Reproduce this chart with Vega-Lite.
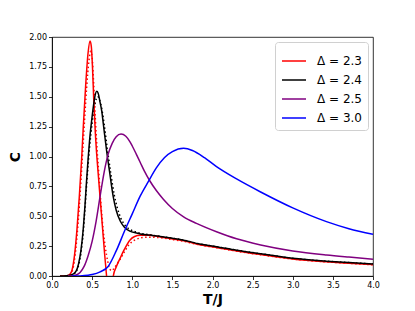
{
  "$schema": "https://vega.github.io/schema/vega-lite/v6.json",
  "autosize": {"type": "none"},
  "width": 321,
  "height": 239,
  "padding": {"left": 52, "top": 37, "right": 42, "bottom": 35},
  "background": "white",
  "config": {
    "view": {"stroke": "black", "strokeWidth": 0.8},
    "font": "DejaVu Sans",
    "axis": {"grid": false, "domainColor": "black", "domainWidth": 0.8, "tickColor": "black", "tickWidth": 0.8, "tickSize": 3.5, "labelFont": "DejaVu Sans", "labelFontSize": 8, "labelColor": "black", "labelPadding": 2, "labelOverlap": false, "titleFont": "DejaVu Sans", "titleFontSize": 14, "titleFontWeight": "bold", "titleColor": "black", "labelFlush": false}
  },
  "data": {"values": [
    {"T":0.1,"C":0,"d":"Δ = 2.3","s":"solid"},{"T":0.18,"C":0.002,"d":"Δ = 2.3","s":"solid"},{"T":0.22,"C":0.012,"d":"Δ = 2.3","s":"solid"},{"T":0.25,"C":0.05,"d":"Δ = 2.3","s":"solid"},{"T":0.28,"C":0.17,"d":"Δ = 2.3","s":"solid"},{"T":0.31,"C":0.38,"d":"Δ = 2.3","s":"solid"},{"T":0.34,"C":0.66,"d":"Δ = 2.3","s":"solid"},{"T":0.37,"C":0.99,"d":"Δ = 2.3","s":"solid"},{"T":0.39,"C":1.25,"d":"Δ = 2.3","s":"solid"},{"T":0.42,"C":1.6,"d":"Δ = 2.3","s":"solid"},{"T":0.45,"C":1.87,"d":"Δ = 2.3","s":"solid"},{"T":0.474,"C":1.966,"d":"Δ = 2.3","s":"solid"},{"T":0.49,"C":1.92,"d":"Δ = 2.3","s":"solid"},{"T":0.505,"C":1.74,"d":"Δ = 2.3","s":"solid"},{"T":0.52,"C":1.48,"d":"Δ = 2.3","s":"solid"},{"T":0.54,"C":1.2,"d":"Δ = 2.3","s":"solid"},{"T":0.56,"C":0.99,"d":"Δ = 2.3","s":"solid"},{"T":0.58,"C":0.82,"d":"Δ = 2.3","s":"solid"},{"T":0.6,"C":0.65,"d":"Δ = 2.3","s":"solid"},{"T":0.63,"C":0.4,"d":"Δ = 2.3","s":"solid"},{"T":0.655,"C":0.19,"d":"Δ = 2.3","s":"solid"},{"T":0.68,"C":0.0,"d":"Δ = 2.3","s":"solid"},{"T":0.7,"C":-0.14,"d":"Δ = 2.3","s":"solid"},{"T":0.72,"C":-0.2,"d":"Δ = 2.3","s":"solid"},{"T":0.74,"C":-0.14,"d":"Δ = 2.3","s":"solid"},{"T":0.764,"C":0.0,"d":"Δ = 2.3","s":"solid"},{"T":0.8,"C":0.075,"d":"Δ = 2.3","s":"solid"},{"T":0.85,"C":0.15,"d":"Δ = 2.3","s":"solid"},{"T":0.9,"C":0.22,"d":"Δ = 2.3","s":"solid"},{"T":0.97,"C":0.3,"d":"Δ = 2.3","s":"solid"},{"T":1.03,"C":0.33,"d":"Δ = 2.3","s":"solid"},{"T":1.1,"C":0.34,"d":"Δ = 2.3","s":"solid"},{"T":1.2,"C":0.341,"d":"Δ = 2.3","s":"solid"},{"T":1.35,"C":0.327,"d":"Δ = 2.3","s":"solid"},{"T":1.5,"C":0.31,"d":"Δ = 2.3","s":"solid"},{"T":1.64,"C":0.295,"d":"Δ = 2.3","s":"solid"},{"T":1.84,"C":0.262,"d":"Δ = 2.3","s":"solid"},{"T":2.05,"C":0.239,"d":"Δ = 2.3","s":"solid"},{"T":2.3,"C":0.21,"d":"Δ = 2.3","s":"solid"},{"T":2.6,"C":0.18,"d":"Δ = 2.3","s":"solid"},{"T":3.0,"C":0.143,"d":"Δ = 2.3","s":"solid"},{"T":3.42,"C":0.119,"d":"Δ = 2.3","s":"solid"},{"T":3.7,"C":0.107,"d":"Δ = 2.3","s":"solid"},{"T":4.0,"C":0.095,"d":"Δ = 2.3","s":"solid"},

    {"T":0.1,"C":0,"d":"Δ = 2.4","s":"solid"},{"T":0.18,"C":0.002,"d":"Δ = 2.4","s":"solid"},{"T":0.22,"C":0.006,"d":"Δ = 2.4","s":"solid"},{"T":0.26,"C":0.015,"d":"Δ = 2.4","s":"solid"},{"T":0.3,"C":0.04,"d":"Δ = 2.4","s":"solid"},{"T":0.33,"C":0.1,"d":"Δ = 2.4","s":"solid"},{"T":0.36,"C":0.21,"d":"Δ = 2.4","s":"solid"},{"T":0.39,"C":0.4,"d":"Δ = 2.4","s":"solid"},{"T":0.41,"C":0.58,"d":"Δ = 2.4","s":"solid"},{"T":0.43,"C":0.79,"d":"Δ = 2.4","s":"solid"},{"T":0.45,"C":0.98,"d":"Δ = 2.4","s":"solid"},{"T":0.47,"C":1.15,"d":"Δ = 2.4","s":"solid"},{"T":0.494,"C":1.3,"d":"Δ = 2.4","s":"solid"},{"T":0.52,"C":1.44,"d":"Δ = 2.4","s":"solid"},{"T":0.54,"C":1.52,"d":"Δ = 2.4","s":"solid"},{"T":0.557,"C":1.545,"d":"Δ = 2.4","s":"solid"},{"T":0.575,"C":1.53,"d":"Δ = 2.4","s":"solid"},{"T":0.6,"C":1.45,"d":"Δ = 2.4","s":"solid"},{"T":0.62,"C":1.38,"d":"Δ = 2.4","s":"solid"},{"T":0.64,"C":1.27,"d":"Δ = 2.4","s":"solid"},{"T":0.68,"C":1.05,"d":"Δ = 2.4","s":"solid"},{"T":0.72,"C":0.86,"d":"Δ = 2.4","s":"solid"},{"T":0.764,"C":0.66,"d":"Δ = 2.4","s":"solid"},{"T":0.8,"C":0.55,"d":"Δ = 2.4","s":"solid"},{"T":0.85,"C":0.46,"d":"Δ = 2.4","s":"solid"},{"T":0.9,"C":0.41,"d":"Δ = 2.4","s":"solid"},{"T":0.97,"C":0.375,"d":"Δ = 2.4","s":"solid"},{"T":1.05,"C":0.36,"d":"Δ = 2.4","s":"solid"},{"T":1.1,"C":0.352,"d":"Δ = 2.4","s":"solid"},{"T":1.22,"C":0.343,"d":"Δ = 2.4","s":"solid"},{"T":1.35,"C":0.33,"d":"Δ = 2.4","s":"solid"},{"T":1.5,"C":0.315,"d":"Δ = 2.4","s":"solid"},{"T":1.64,"C":0.3,"d":"Δ = 2.4","s":"solid"},{"T":1.84,"C":0.268,"d":"Δ = 2.4","s":"solid"},{"T":2.05,"C":0.245,"d":"Δ = 2.4","s":"solid"},{"T":2.3,"C":0.216,"d":"Δ = 2.4","s":"solid"},{"T":2.6,"C":0.186,"d":"Δ = 2.4","s":"solid"},{"T":3.0,"C":0.148,"d":"Δ = 2.4","s":"solid"},{"T":3.42,"C":0.124,"d":"Δ = 2.4","s":"solid"},{"T":3.7,"C":0.112,"d":"Δ = 2.4","s":"solid"},{"T":4.0,"C":0.1,"d":"Δ = 2.4","s":"solid"},

    {"T":0.2,"C":0,"d":"Δ = 2.5","s":"solid"},{"T":0.26,"C":0.002,"d":"Δ = 2.5","s":"solid"},{"T":0.3,"C":0.008,"d":"Δ = 2.5","s":"solid"},{"T":0.35,"C":0.03,"d":"Δ = 2.5","s":"solid"},{"T":0.4,"C":0.08,"d":"Δ = 2.5","s":"solid"},{"T":0.45,"C":0.17,"d":"Δ = 2.5","s":"solid"},{"T":0.5,"C":0.29,"d":"Δ = 2.5","s":"solid"},{"T":0.55,"C":0.46,"d":"Δ = 2.5","s":"solid"},{"T":0.6,"C":0.67,"d":"Δ = 2.5","s":"solid"},{"T":0.65,"C":0.87,"d":"Δ = 2.5","s":"solid"},{"T":0.7,"C":1.02,"d":"Δ = 2.5","s":"solid"},{"T":0.75,"C":1.11,"d":"Δ = 2.5","s":"solid"},{"T":0.8,"C":1.165,"d":"Δ = 2.5","s":"solid"},{"T":0.86,"C":1.188,"d":"Δ = 2.5","s":"solid"},{"T":0.92,"C":1.17,"d":"Δ = 2.5","s":"solid"},{"T":0.97,"C":1.125,"d":"Δ = 2.5","s":"solid"},{"T":1.0,"C":1.088,"d":"Δ = 2.5","s":"solid"},{"T":1.05,"C":1.02,"d":"Δ = 2.5","s":"solid"},{"T":1.1,"C":0.95,"d":"Δ = 2.5","s":"solid"},{"T":1.15,"C":0.88,"d":"Δ = 2.5","s":"solid"},{"T":1.22,"C":0.795,"d":"Δ = 2.5","s":"solid"},{"T":1.3,"C":0.715,"d":"Δ = 2.5","s":"solid"},{"T":1.39,"C":0.64,"d":"Δ = 2.5","s":"solid"},{"T":1.5,"C":0.565,"d":"Δ = 2.5","s":"solid"},{"T":1.64,"C":0.495,"d":"Δ = 2.5","s":"solid"},{"T":1.8,"C":0.44,"d":"Δ = 2.5","s":"solid"},{"T":2.05,"C":0.37,"d":"Δ = 2.5","s":"solid"},{"T":2.3,"C":0.311,"d":"Δ = 2.5","s":"solid"},{"T":2.6,"C":0.26,"d":"Δ = 2.5","s":"solid"},{"T":3.0,"C":0.21,"d":"Δ = 2.5","s":"solid"},{"T":3.42,"C":0.176,"d":"Δ = 2.5","s":"solid"},{"T":3.7,"C":0.158,"d":"Δ = 2.5","s":"solid"},{"T":4.0,"C":0.14,"d":"Δ = 2.5","s":"solid"},

    {"T":0.25,"C":0,"d":"Δ = 3.0","s":"solid"},{"T":0.35,"C":0.001,"d":"Δ = 3.0","s":"solid"},{"T":0.45,"C":0.006,"d":"Δ = 3.0","s":"solid"},{"T":0.5,"C":0.012,"d":"Δ = 3.0","s":"solid"},{"T":0.6,"C":0.035,"d":"Δ = 3.0","s":"solid"},{"T":0.7,"C":0.08,"d":"Δ = 3.0","s":"solid"},{"T":0.8,"C":0.21,"d":"Δ = 3.0","s":"solid"},{"T":0.9,"C":0.37,"d":"Δ = 3.0","s":"solid"},{"T":1.0,"C":0.52,"d":"Δ = 3.0","s":"solid"},{"T":1.1,"C":0.67,"d":"Δ = 3.0","s":"solid"},{"T":1.2,"C":0.79,"d":"Δ = 3.0","s":"solid"},{"T":1.3,"C":0.905,"d":"Δ = 3.0","s":"solid"},{"T":1.4,"C":0.99,"d":"Δ = 3.0","s":"solid"},{"T":1.5,"C":1.04,"d":"Δ = 3.0","s":"solid"},{"T":1.64,"C":1.068,"d":"Δ = 3.0","s":"solid"},{"T":1.75,"C":1.05,"d":"Δ = 3.0","s":"solid"},{"T":1.9,"C":0.99,"d":"Δ = 3.0","s":"solid"},{"T":2.05,"C":0.915,"d":"Δ = 3.0","s":"solid"},{"T":2.3,"C":0.812,"d":"Δ = 3.0","s":"solid"},{"T":2.6,"C":0.703,"d":"Δ = 3.0","s":"solid"},{"T":3.0,"C":0.57,"d":"Δ = 3.0","s":"solid"},{"T":3.42,"C":0.455,"d":"Δ = 3.0","s":"solid"},{"T":3.7,"C":0.396,"d":"Δ = 3.0","s":"solid"},{"T":4.0,"C":0.349,"d":"Δ = 3.0","s":"solid"},

    {"T":0.18,"C":0.001,"d":"Δ = 2.3","s":"dotted"},{"T":0.22,"C":0.006,"d":"Δ = 2.3","s":"dotted"},{"T":0.25,"C":0.035,"d":"Δ = 2.3","s":"dotted"},{"T":0.28,"C":0.13,"d":"Δ = 2.3","s":"dotted"},{"T":0.31,"C":0.32,"d":"Δ = 2.3","s":"dotted"},{"T":0.34,"C":0.58,"d":"Δ = 2.3","s":"dotted"},{"T":0.37,"C":0.9,"d":"Δ = 2.3","s":"dotted"},{"T":0.4,"C":1.24,"d":"Δ = 2.3","s":"dotted"},{"T":0.43,"C":1.56,"d":"Δ = 2.3","s":"dotted"},{"T":0.46,"C":1.8,"d":"Δ = 2.3","s":"dotted"},{"T":0.482,"C":1.88,"d":"Δ = 2.3","s":"dotted"},{"T":0.5,"C":1.83,"d":"Δ = 2.3","s":"dotted"},{"T":0.52,"C":1.6,"d":"Δ = 2.3","s":"dotted"},{"T":0.54,"C":1.32,"d":"Δ = 2.3","s":"dotted"},{"T":0.56,"C":1.08,"d":"Δ = 2.3","s":"dotted"},{"T":0.585,"C":0.84,"d":"Δ = 2.3","s":"dotted"},{"T":0.61,"C":0.6,"d":"Δ = 2.3","s":"dotted"},{"T":0.64,"C":0.37,"d":"Δ = 2.3","s":"dotted"},{"T":0.68,"C":0.175,"d":"Δ = 2.3","s":"dotted"},{"T":0.71,"C":0.08,"d":"Δ = 2.3","s":"dotted"},{"T":0.74,"C":0.045,"d":"Δ = 2.3","s":"dotted"},{"T":0.77,"C":0.06,"d":"Δ = 2.3","s":"dotted"},{"T":0.81,"C":0.1,"d":"Δ = 2.3","s":"dotted"},{"T":0.85,"C":0.14,"d":"Δ = 2.3","s":"dotted"},{"T":0.9,"C":0.2,"d":"Δ = 2.3","s":"dotted"},{"T":0.97,"C":0.27,"d":"Δ = 2.3","s":"dotted"},{"T":1.03,"C":0.3,"d":"Δ = 2.3","s":"dotted"},{"T":1.1,"C":0.318,"d":"Δ = 2.3","s":"dotted"},{"T":1.2,"C":0.325,"d":"Δ = 2.3","s":"dotted"},{"T":1.35,"C":0.32,"d":"Δ = 2.3","s":"dotted"},{"T":1.5,"C":0.305,"d":"Δ = 2.3","s":"dotted"},{"T":1.64,"C":0.29,"d":"Δ = 2.3","s":"dotted"},{"T":1.84,"C":0.26,"d":"Δ = 2.3","s":"dotted"},{"T":2.05,"C":0.237,"d":"Δ = 2.3","s":"dotted"},{"T":2.3,"C":0.208,"d":"Δ = 2.3","s":"dotted"},{"T":2.6,"C":0.178,"d":"Δ = 2.3","s":"dotted"},{"T":3.0,"C":0.142,"d":"Δ = 2.3","s":"dotted"},{"T":3.42,"C":0.118,"d":"Δ = 2.3","s":"dotted"},{"T":3.7,"C":0.106,"d":"Δ = 2.3","s":"dotted"},{"T":4.0,"C":0.094,"d":"Δ = 2.3","s":"dotted"},

    {"T":0.18,"C":0.001,"d":"Δ = 2.4","s":"dotted"},{"T":0.22,"C":0.004,"d":"Δ = 2.4","s":"dotted"},{"T":0.26,"C":0.012,"d":"Δ = 2.4","s":"dotted"},{"T":0.3,"C":0.035,"d":"Δ = 2.4","s":"dotted"},{"T":0.33,"C":0.085,"d":"Δ = 2.4","s":"dotted"},{"T":0.36,"C":0.19,"d":"Δ = 2.4","s":"dotted"},{"T":0.39,"C":0.37,"d":"Δ = 2.4","s":"dotted"},{"T":0.41,"C":0.55,"d":"Δ = 2.4","s":"dotted"},{"T":0.43,"C":0.75,"d":"Δ = 2.4","s":"dotted"},{"T":0.45,"C":0.93,"d":"Δ = 2.4","s":"dotted"},{"T":0.47,"C":1.09,"d":"Δ = 2.4","s":"dotted"},{"T":0.5,"C":1.28,"d":"Δ = 2.4","s":"dotted"},{"T":0.53,"C":1.42,"d":"Δ = 2.4","s":"dotted"},{"T":0.55,"C":1.48,"d":"Δ = 2.4","s":"dotted"},{"T":0.57,"C":1.5,"d":"Δ = 2.4","s":"dotted"},{"T":0.59,"C":1.48,"d":"Δ = 2.4","s":"dotted"},{"T":0.62,"C":1.4,"d":"Δ = 2.4","s":"dotted"},{"T":0.65,"C":1.27,"d":"Δ = 2.4","s":"dotted"},{"T":0.69,"C":1.06,"d":"Δ = 2.4","s":"dotted"},{"T":0.73,"C":0.87,"d":"Δ = 2.4","s":"dotted"},{"T":0.775,"C":0.68,"d":"Δ = 2.4","s":"dotted"},{"T":0.81,"C":0.58,"d":"Δ = 2.4","s":"dotted"},{"T":0.86,"C":0.48,"d":"Δ = 2.4","s":"dotted"},{"T":0.91,"C":0.425,"d":"Δ = 2.4","s":"dotted"},{"T":0.97,"C":0.39,"d":"Δ = 2.4","s":"dotted"},{"T":1.05,"C":0.367,"d":"Δ = 2.4","s":"dotted"},{"T":1.1,"C":0.357,"d":"Δ = 2.4","s":"dotted"},{"T":1.22,"C":0.345,"d":"Δ = 2.4","s":"dotted"},{"T":1.35,"C":0.331,"d":"Δ = 2.4","s":"dotted"},{"T":1.5,"C":0.316,"d":"Δ = 2.4","s":"dotted"},{"T":1.64,"C":0.3,"d":"Δ = 2.4","s":"dotted"},{"T":1.84,"C":0.268,"d":"Δ = 2.4","s":"dotted"},{"T":2.05,"C":0.245,"d":"Δ = 2.4","s":"dotted"},{"T":2.3,"C":0.216,"d":"Δ = 2.4","s":"dotted"},{"T":2.6,"C":0.186,"d":"Δ = 2.4","s":"dotted"},{"T":3.0,"C":0.148,"d":"Δ = 2.4","s":"dotted"},{"T":3.42,"C":0.124,"d":"Δ = 2.4","s":"dotted"},{"T":3.7,"C":0.112,"d":"Δ = 2.4","s":"dotted"},{"T":4.0,"C":0.1,"d":"Δ = 2.4","s":"dotted"}
  ]},
  "layer": [
    {
      "transform": [{"filter": "datum.s === 'dotted'"}],
      "mark": {"type": "line", "interpolate": "monotone", "clip": true, "strokeWidth": 1.5, "strokeDash": [1.5, 2.5]},
      "encoding": {
        "x": {"field": "T", "type": "quantitative", "axis": {"values": [0, 0.5, 1, 1.5, 2, 2.5, 3, 3.5, 4], "format": ".1f", "title": "T/J", "titlePadding": 3, "labelOverlap": false}},
        "y": {"field": "C", "type": "quantitative", "axis": {"values": [0, 0.25, 0.5, 0.75, 1, 1.25, 1.5, 1.75, 2], "format": ".2f", "title": "C", "titlePadding": 6, "labelOverlap": false}},
        "color": {"field": "d", "type": "nominal", "scale": {"domain": ["Δ = 2.3", "Δ = 2.4"], "range": ["#ff0000", "#000000"]}, "legend": null},
        "detail": {"field": "d"}
      }
    },
    {
      "transform": [{"filter": "datum.s === 'solid'"}],
      "mark": {"type": "line", "interpolate": "monotone", "clip": true, "strokeWidth": 1.5},
      "encoding": {
        "x": {"field": "T", "type": "quantitative", "scale": {"domain": [0, 4], "nice": false, "zero": false}, "axis": {"values": [0, 0.5, 1, 1.5, 2, 2.5, 3, 3.5, 4], "format": ".1f", "title": "T/J", "titlePadding": 3, "labelOverlap": false}},
        "y": {"field": "C", "type": "quantitative", "scale": {"domain": [0, 2], "nice": false, "zero": false}, "axis": {"values": [0, 0.25, 0.5, 0.75, 1, 1.25, 1.5, 1.75, 2], "format": ".2f", "title": "C", "titlePadding": 6, "labelOverlap": false}},
        "color": {"field": "d", "type": "nominal", "scale": {"domain": ["Δ = 2.3", "Δ = 2.4", "Δ = 2.5", "Δ = 3.0"], "range": ["#ff0000", "#000000", "#800080", "#0000ff"]},
          "legend": {"title": null, "orient": "top-right", "offset": 5, "symbolType": "stroke", "symbolSize": 576, "symbolStrokeWidth": 1.5, "labelFontSize": 12, "labelFont": "DejaVu Sans", "labelColor": "black", "labelOffset": 10, "rowPadding": -6, "padding": 6, "strokeColor": "#d0d0d0", "fillColor": "white", "cornerRadius": 3}}
      }
    }
  ],
  "resolve": {"scale": {"color": "independent"}, "legend": {"color": "independent"}}
}
